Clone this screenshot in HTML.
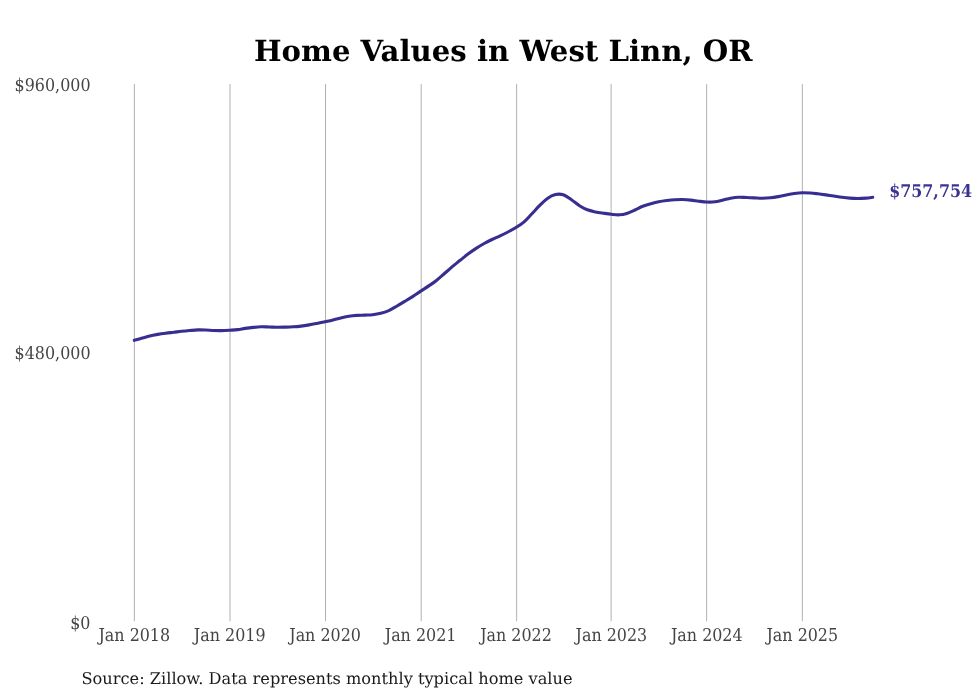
<!DOCTYPE html>
<html lang="en">
<head>
<meta charset="utf-8">
<title>Home Values in West Linn, OR</title>
<style>
html,body{margin:0;padding:0;background:#fff;}
body{width:980px;height:699px;overflow:hidden;}
svg{display:block;}
text{font-family:"DejaVu Serif","Liberation Serif",serif;text-rendering:geometricPrecision;}
.title{font-size:29.2px;font-weight:bold;fill:#000;}
.tick{font-family:"DejaVu Serif Condensed","DejaVu Serif","Liberation Serif",serif;font-stretch:condensed;font-size:17.7px;fill:#444;}
.src{font-size:16.22px;fill:#1a1a1a;}
.end{font-family:"DejaVu Serif Condensed","DejaVu Serif","Liberation Serif",serif;font-stretch:condensed;font-size:17.65px;font-weight:bold;fill:#3b3391;}
.grid line{stroke:#b0b0b0;stroke-width:1;}
</style>
</head>
<body>
<svg width="980" height="699" viewBox="0 0 980 699">
<rect width="980" height="699" fill="#fff"/>
<g class="grid">
<line x1="134.35" y1="84.1" x2="134.35" y2="621.2"/>
<line x1="230.0" y1="84.1" x2="230.0" y2="621.2"/>
<line x1="325.55" y1="84.1" x2="325.55" y2="621.2"/>
<line x1="421.2" y1="84.1" x2="421.2" y2="621.2"/>
<line x1="516.65" y1="84.1" x2="516.65" y2="621.2"/>
<line x1="611.1" y1="84.1" x2="611.1" y2="621.2"/>
<line x1="706.65" y1="84.1" x2="706.65" y2="621.2"/>
<line x1="802.35" y1="84.1" x2="802.35" y2="621.2"/>
</g>
<text class="title" x="503.25" y="61" text-anchor="middle">Home Values in West Linn, OR</text>
<text class="tick" x="90.5" y="91" text-anchor="end">$960,000</text>
<text class="tick" x="90.5" y="359" text-anchor="end">$480,000</text>
<text class="tick" x="90.5" y="629" text-anchor="end">$0</text>
<text class="tick" x="134.3" y="641" text-anchor="middle">Jan 2018</text>
<text class="tick" x="229.7" y="641" text-anchor="middle">Jan 2019</text>
<text class="tick" x="325.1" y="641" text-anchor="middle">Jan 2020</text>
<text class="tick" x="420.6" y="641" text-anchor="middle">Jan 2021</text>
<text class="tick" x="516.0" y="641" text-anchor="middle">Jan 2022</text>
<text class="tick" x="611.4" y="641" text-anchor="middle">Jan 2023</text>
<text class="tick" x="706.8" y="641" text-anchor="middle">Jan 2024</text>
<text class="tick" x="802.3" y="641" text-anchor="middle">Jan 2025</text>
<text class="src" x="81.5" y="684">Source: Zillow. Data represents monthly typical home value</text>
<text class="end" x="889.2" y="197">$757,754</text>
<path id="curve" d="M134.3 340.30 C135.6 339.93 139.8 338.82 142.4 338.10 C145.0 337.38 147.1 336.62 149.7 336.00 C152.3 335.38 155.2 334.86 157.8 334.40 C160.5 333.94 163.0 333.60 165.7 333.25 C168.3 332.90 171.1 332.62 173.8 332.30 C176.4 331.98 178.9 331.60 181.6 331.30 C184.2 331.00 187.0 330.73 189.7 330.50 C192.4 330.27 195.1 329.98 197.8 329.90 C200.4 329.82 203.0 329.90 205.6 330.00 C208.3 330.10 211.1 330.40 213.7 330.50 C216.4 330.60 218.9 330.65 221.6 330.60 C224.2 330.55 227.0 330.37 229.7 330.20 C232.4 330.03 235.2 329.90 237.8 329.60 C240.3 329.30 242.5 328.77 245.1 328.40 C247.7 328.03 250.5 327.67 253.2 327.40 C255.8 327.13 258.4 326.87 261.0 326.80 C263.7 326.73 266.5 326.93 269.1 327.00 C271.8 327.07 274.3 327.23 277.0 327.25 C279.6 327.27 282.4 327.18 285.1 327.10 C287.8 327.03 290.5 326.97 293.2 326.80 C295.8 326.63 298.3 326.42 301.0 326.10 C303.7 325.78 306.4 325.35 309.1 324.90 C311.8 324.45 314.3 323.93 316.9 323.40 C319.6 322.87 322.3 322.28 325.0 321.70 C327.7 321.12 330.5 320.53 333.1 319.90 C335.7 319.27 338.1 318.50 340.7 317.90 C343.3 317.30 346.2 316.72 348.8 316.30 C351.5 315.88 354.0 315.60 356.7 315.40 C359.3 315.20 362.1 315.22 364.8 315.10 C367.4 314.98 369.9 315.00 372.6 314.70 C375.2 314.40 378.0 313.98 380.7 313.30 C383.4 312.62 386.1 311.78 388.8 310.60 C391.4 309.43 394.0 307.78 396.6 306.25 C399.3 304.72 402.1 303.01 404.7 301.40 C407.4 299.79 409.9 298.32 412.6 296.60 C415.2 294.88 418.0 292.88 420.7 291.10 C423.4 289.32 426.2 287.63 428.8 285.90 C431.3 284.17 433.5 282.72 436.1 280.70 C438.7 278.68 441.5 276.10 444.2 273.80 C446.8 271.50 449.4 269.15 452.0 266.90 C454.7 264.65 457.5 262.43 460.1 260.30 C462.8 258.17 465.3 256.08 468.0 254.10 C470.6 252.12 473.4 250.17 476.1 248.40 C478.8 246.63 481.5 244.98 484.2 243.50 C486.8 242.02 489.3 240.78 492.0 239.50 C494.7 238.22 497.4 237.05 500.1 235.80 C502.8 234.55 505.3 233.38 507.9 232.00 C510.6 230.62 513.3 229.20 516.0 227.50 C518.7 225.80 521.6 224.00 524.1 221.80 C526.7 219.60 528.9 216.98 531.4 214.30 C534.0 211.62 536.9 208.35 539.5 205.70 C542.2 203.05 544.7 200.27 547.4 198.40 C550.0 196.53 552.8 195.10 555.5 194.50 C558.1 193.90 560.7 193.92 563.3 194.80 C566.0 195.68 568.7 197.98 571.4 199.80 C574.1 201.62 576.9 204.03 579.5 205.70 C582.2 207.37 584.7 208.77 587.4 209.80 C590.0 210.83 592.8 211.33 595.5 211.90 C598.1 212.47 600.6 212.80 603.3 213.20 C606.0 213.60 608.7 214.03 611.4 214.30 C614.1 214.57 616.9 214.95 619.5 214.80 C622.1 214.65 624.2 214.20 626.8 213.40 C629.4 212.60 632.3 211.19 634.9 210.00 C637.6 208.81 640.1 207.30 642.8 206.25 C645.4 205.20 648.2 204.46 650.9 203.70 C653.5 202.94 656.0 202.23 658.7 201.70 C661.4 201.17 664.1 200.83 666.8 200.50 C669.5 200.17 672.2 199.87 674.9 199.70 C677.6 199.53 680.1 199.43 682.7 199.50 C685.4 199.57 688.2 199.82 690.8 200.10 C693.5 200.38 696.0 200.88 698.7 201.20 C701.3 201.52 704.1 201.95 706.8 202.05 C709.5 202.15 712.3 202.11 714.9 201.80 C717.5 201.49 719.8 200.79 722.4 200.20 C725.1 199.61 727.9 198.75 730.5 198.25 C733.2 197.75 735.7 197.32 738.4 197.20 C741.0 197.07 743.8 197.38 746.5 197.50 C749.1 197.62 751.7 197.78 754.3 197.90 C757.0 198.03 759.7 198.27 762.4 198.25 C765.1 198.23 767.9 198.08 770.5 197.80 C773.2 197.53 775.7 197.08 778.4 196.60 C781.0 196.12 783.8 195.42 786.5 194.90 C789.1 194.38 791.6 193.87 794.3 193.50 C797.0 193.13 799.7 192.78 802.4 192.70 C805.1 192.62 807.9 192.82 810.5 193.00 C813.1 193.18 815.2 193.48 817.8 193.80 C820.4 194.12 823.3 194.53 825.9 194.90 C828.6 195.27 831.1 195.62 833.8 196.00 C836.4 196.38 839.2 196.85 841.9 197.20 C844.5 197.55 847.0 197.88 849.7 198.10 C852.3 198.32 855.1 198.50 857.8 198.50 C860.5 198.50 863.4 198.30 865.9 198.10 C868.4 197.90 871.6 197.43 872.7 197.30" fill="none" stroke="#382e91" stroke-width="3.1" stroke-linejoin="round" stroke-linecap="round"/>
</svg>
</body>
</html>
